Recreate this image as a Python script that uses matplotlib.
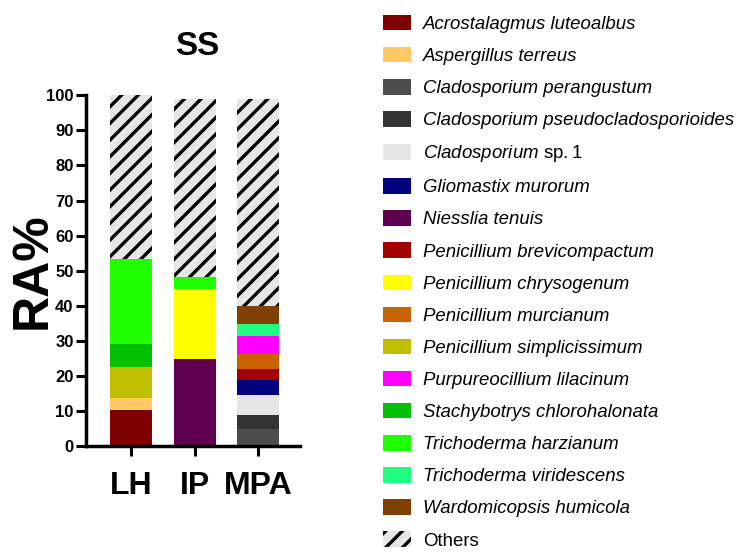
import matplotlib
matplotlib.use("Agg")
import matplotlib.pyplot as plt
import numpy as np
from matplotlib.patches import Patch

plt.rcParams['font.family'] = ['Liberation Sans', 'DejaVu Sans']
plt.rcParams['mathtext.fontset'] = 'custom'
plt.rcParams['mathtext.rm'] = 'Liberation Sans'
plt.rcParams['hatch.linewidth'] = 2.4

samples = ['LH', 'IP', 'MPA']

species = [
    'Acrostalagmus luteoalbus',
    'Aspergillus terreus',
    'Cladosporium perangustum',
    'Cladosporium pseudocladosporioides',
    'Cladosporium $\\mathrm{sp.1}$',
    'Gliomastix murorum',
    'Niesslia tenuis',
    'Penicillium brevicompactum',
    'Penicillium chrysogenum',
    'Penicillium murcianum',
    'Penicillium simplicissimum',
    'Purpureocillium lilacinum',
    'Stachybotrys chlorohalonata',
    'Trichoderma harzianum',
    'Trichoderma viridescens',
    'Wardomicopsis humicola',
]

colors = [
    '#7f0000', '#ffc966', '#4d4d4d', '#333333', '#e6e6e6', '#000080',
    '#600050', '#a00000', '#ffff00', '#c86400', '#c0c000', '#ff00ff',
    '#00c000', '#20ff00', '#20ff80', '#804000',
]

# relative abundance (%) per species, columns = LH, IP, MPA
values = [
    [10.2, 0.0, 0.0],   # Acrostalagmus luteoalbus
    [3.5, 0.0, 0.0],    # Aspergillus terreus
    [0.0, 0.0, 4.8],    # Cladosporium perangustum
    [0.0, 0.0, 4.1],    # Cladosporium pseudocladosporioides
    [0.0, 0.0, 5.8],    # Cladosporium sp.1
    [0.0, 0.0, 4.2],    # Gliomastix murorum
    [0.0, 24.9, 0.0],   # Niesslia tenuis
    [0.0, 0.0, 3.0],    # Penicillium brevicompactum
    [0.0, 20.0, 0.0],   # Penicillium chrysogenum
    [0.0, 0.0, 4.3],    # Penicillium murcianum
    [8.8, 0.0, 0.0],    # Penicillium simplicissimum
    [0.0, 0.0, 5.3],    # Purpureocillium lilacinum
    [6.7, 0.0, 0.0],    # Stachybotrys chlorohalonata
    [24.0, 3.2, 0.0],   # Trichoderma harzianum
    [0.0, 0.0, 3.2],    # Trichoderma viridescens
    [0.0, 0.0, 5.3],    # Wardomicopsis humicola
]
others = [46.8, 50.9, 59.0]

fig = plt.figure(figsize=(7.48, 5.57), dpi=100)
ax = fig.add_axes([0.115, 0.199, 0.286, 0.630])

x = np.arange(len(samples))
width = 0.66
bottom = np.zeros(len(samples))
for name, col, vals in zip(species, colors, values):
    vals = np.array(vals)
    ax.bar(x, vals, width, bottom=bottom, color=col, linewidth=0)
    bottom += vals
ax.bar(x, others, width, bottom=bottom, color='#e6e6e6', hatch='//',
       edgecolor='black', linewidth=0)

ax.set_xlim(-0.71, 2.66)
ax.set_ylim(0, 100)
ax.set_yticks(np.arange(0, 101, 10))
ax.set_xticks(x)
ax.set_xticklabels(samples, fontsize=23, fontweight='bold')
for lab in ax.get_yticklabels():
    lab.set_fontweight('bold')
    lab.set_fontsize(12)
ax.spines['top'].set_visible(False)
ax.spines['right'].set_visible(False)
ax.spines['left'].set_linewidth(2.5)
ax.spines['bottom'].set_linewidth(2.5)
ax.tick_params(axis='y', length=7, width=2.2, pad=2)
ax.tick_params(axis='x', length=7, width=2.2, pad=11)
ax.set_ylabel('RA%', fontsize=36, fontweight='bold', labelpad=-7)
ax.set_title('SS', fontsize=24, fontweight='bold', x=0.52, pad=29)

handles = [Patch(facecolor=c, edgecolor='none') for c in colors]
handles.append(Patch(facecolor='#e6e6e6', hatch='//', edgecolor='black', linewidth=0))
labels = species + ['Others']
leg = fig.legend(handles, labels, loc='upper left', bbox_to_anchor=(0.5, 0.99),
                 frameon=False, prop={'size': 13.4, 'style': 'italic'},
                 handlelength=1.5, handleheight=0.9, labelspacing=0.75,
                 handletextpad=0.65, borderpad=0)
leg.get_texts()[-1].set_fontstyle('normal')

fig.savefig('out.png', dpi=100)
